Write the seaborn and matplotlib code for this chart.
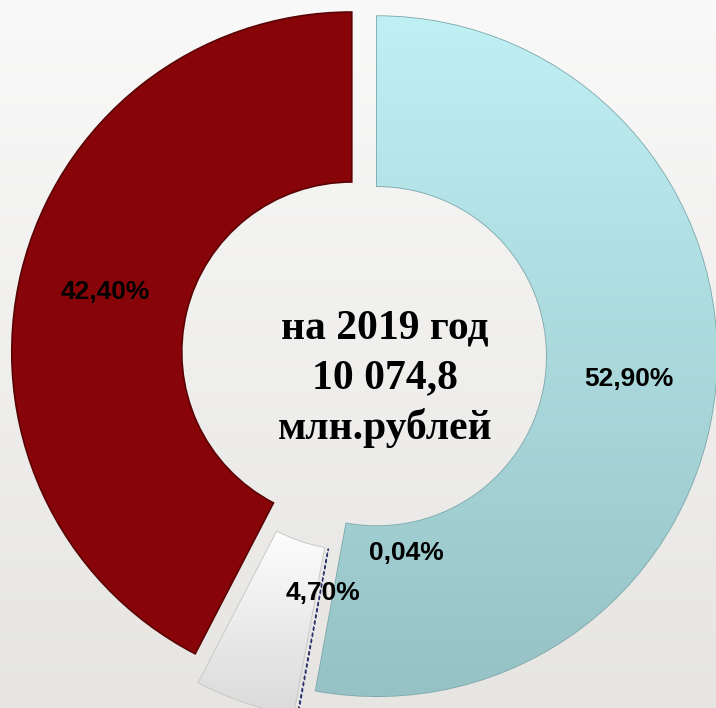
import numpy as np
import matplotlib.pyplot as plt
import seaborn as sns
from matplotlib.colors import LinearSegmentedColormap

sns.set_theme(style="white")
plt.rcParams['font.family'] = ['Liberation Sans', 'DejaVu Sans']

# structure of the budget, share of each part in %
shares = [52.90, 0.04, 4.70, 42.40]
share_labels = ['52,90%', '0,04%', '4,70%', '42,40%']
center_lines = ['на 2019 год', '10 074,8', 'млн.рублей']

# styling
slice_colors = ['#ACDCE0', '#F2F2F2', '#F2F2F2', '#870508']
edge_colors = ['#7EA7AA', '#2E3470', '#C4C4C4', '#5A0204']
explode = [0.038, 0.08, 0.08, 0.037]
gradients = {0: ('#BFF0F4', '#96C2C5'), 2: ('#FDFDFD', '#DADADA')}


def main():
    fig = plt.figure(figsize=(7.16, 7.08), dpi=100)
    ax = fig.add_axes([0, 0, 1, 1])
    xlim = (-364 / 340, (716 - 364) / 340)
    ylim = (-(708 - 355) / 340, 355 / 340)

    # soft grey background
    bg = LinearSegmentedColormap.from_list('bg', ['#E6E5E2', '#F9F9F9'])
    ax.imshow(np.linspace(0, 1, 256)[:, None], cmap=bg, origin='lower',
              extent=[xlim[0], xlim[1], ylim[0], ylim[1]], aspect='auto',
              zorder=0)

    labels_iter = iter(share_labels)
    wedges, _, autotexts = ax.pie(
        shares, startangle=90, counterclock=False, radius=1,
        explode=explode, colors=slice_colors,
        wedgeprops=dict(width=0.5, linewidth=1.2, zorder=2),
        autopct=lambda p: next(labels_iter), pctdistance=0.745,
        textprops=dict(fontsize=19, fontweight='bold', color='black'))

    for w, ec in zip(wedges, edge_colors):
        w.set_edgecolor(ec)
    wedges[1].set_linestyle((0, (3, 2)))
    wedges[1].set_linewidth(0.9)

    # vertical shading for the light slices, fitted to each slice
    for i, (top, bottom) in gradients.items():
        box = wedges[i].get_path().get_extents()
        cm = LinearSegmentedColormap.from_list('g%d' % i, [bottom, top])
        im = ax.imshow(np.linspace(0, 1, 256)[:, None], cmap=cm,
                       origin='lower',
                       extent=[box.x0, box.x1, box.y0, box.y1],
                       aspect='auto', zorder=2.5)
        im.set_clip_path(wedges[i])

    # small slices have their labels moved by hand
    autotexts[1].set_position((0.124, -0.582))
    autotexts[2].set_position((-0.121, -0.700))
    for t in autotexts:
        t.set_zorder(5)

    for line, y in zip(center_lines, [0.05, -0.097, -0.247]):
        ax.text(0.062, y, line, ha='center', va='baseline', fontsize=30,
                fontweight='bold', color='black',
                family=['Liberation Serif', 'DejaVu Serif'], zorder=5)

    ax.set_xlim(*xlim)
    ax.set_ylim(*ylim)
    ax.set_aspect('equal')
    ax.axis('off')
    fig.savefig('out.png', dpi=100)
    plt.close(fig)


if __name__ == '__main__':
    main()
